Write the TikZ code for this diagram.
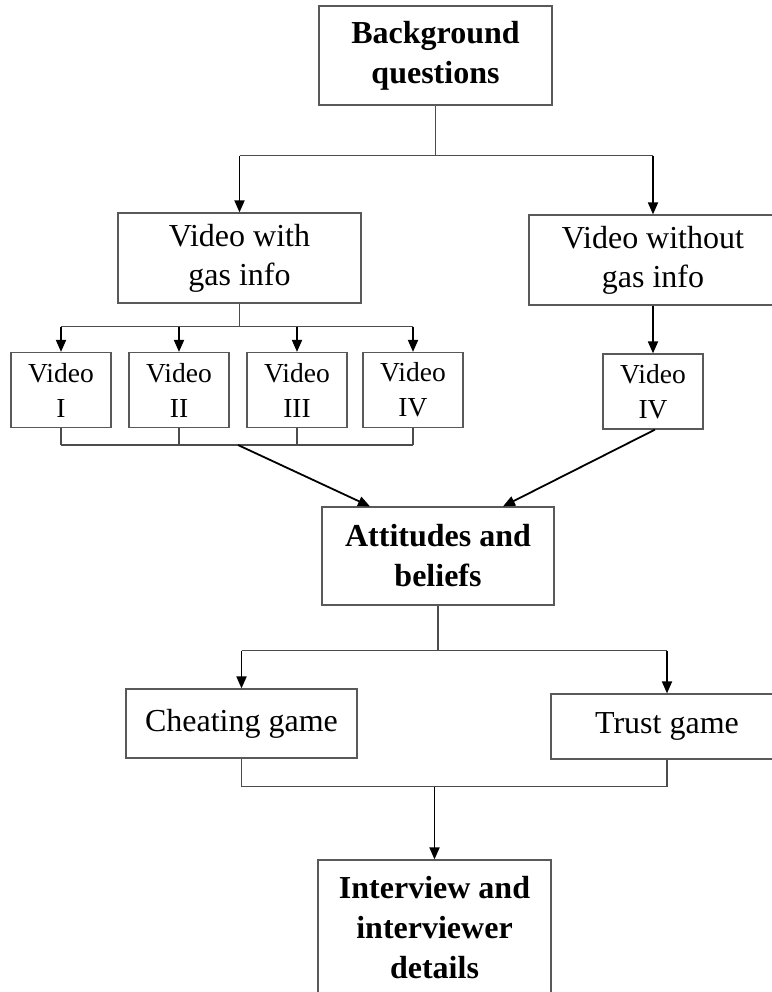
\documentclass[tikz,border=0pt]{standalone}
\usepackage{fontspec}
\setmainfont{Liberation Serif}
\usetikzlibrary{arrows.meta,positioning,calc}

\tikzset{
  stage/.style={draw=black!65, line width=1.2pt, align=center, inner sep=0pt,
    font=\fontsize{32}{39}\selectfont},
  keystage/.style={stage, font=\bfseries\fontsize{32}{40}\selectfont},
  vidbox/.style={stage, minimum width=100pt, minimum height=75pt,
    font=\fontsize{27.5}{35}\selectfont},
  link/.style={draw=black!70, line width=1.2pt},
  arr/.style={draw=black, line width=1.8pt, -{Triangle[length=12pt,width=10pt]}},
}

\begin{document}
\begin{tikzpicture}[x=1pt,y=-1pt]
\useasboundingbox (0,0) rectangle (771,992);

% Stages
\node[keystage, minimum width=233pt, minimum height=99pt] (bg) at (435.5,55.5) {Background\\questions};
\node[stage, minimum width=243pt, minimum height=90pt] (vwith) at (239.5,258) {Video with\\gas info};
\node[stage, minimum width=248pt, minimum height=90pt] (vwithout) at (653,260) {Video without\\gas info};

% Video versions
\foreach \x/\r [count=\i] in {61/I,179/II,297/III,413/IV}
  \node[vidbox] (v\i) at (\x,390) {Video\\\r};
\node[vidbox] (v5) at (653,391.5) {Video\\IV};

\node[keystage, minimum width=232pt, minimum height=98pt] (att) at (438,556) {Attitudes and\\beliefs};
\node[stage, minimum width=231pt, minimum height=69pt] (cheat) at (241.5,723.5) {Cheating game};
\node[stage, minimum width=232pt, minimum height=65pt] (trust) at (667,726.5) {Trust game};
\node[keystage, minimum width=233pt, minimum height=135pt] (intv) at (434.5,927.5) {Interview and\\interviewer\\details};

% Background -> videos
\draw[link] (bg.south) -- ++(0,50) coordinate (bgsplit);
\draw[link] (vwith.north |- bgsplit) -- (vwithout.north |- bgsplit);
\draw[arr] (vwith.north |- bgsplit) -- (vwith.north);
\draw[arr] (vwithout.north |- bgsplit) -- (vwithout.north);

% Video with gas info -> four versions
\draw[link] (vwith.south) -- ++(0,23) coordinate (vsplit);
\draw[link] (v1.north |- vsplit) -- (v4.north |- vsplit);
\foreach \i in {1,...,4}
  \draw[arr] (v\i.north |- vsplit) -- (v\i.north);
\draw[arr] (vwithout) -- (v5);

% Versions -> attitudes
\coordinate (vjoin) at (238,445);
\foreach \i in {1,...,4}
  \draw[link] (v\i.south) -- (v\i.south |- vjoin);
\draw[link] (v1.south |- vjoin) -- (v4.south |- vjoin);
\draw[arr] (vjoin) -- ([xshift=-68pt]att.north);
\draw[arr] ([xshift=2pt]v5.south) -- ([xshift=65pt]att.north);

% Attitudes -> games
\draw[link] (att.south) -- ++(0,45) coordinate (attsplit);
\draw[link] (cheat.north |- attsplit) -- (trust.north |- attsplit);
\draw[arr] (cheat.north |- attsplit) -- (cheat.north);
\draw[arr] (trust.north |- attsplit) -- (trust.north);

% Games -> interview
\draw[link] (cheat.south) -- ++(0,28) coordinate (gjoin);
\draw[link] (trust.south) -- (trust.south |- gjoin);
\draw[link] (cheat.south |- gjoin) -- (trust.south |- gjoin);
\draw[arr] (intv.north |- gjoin) -- (intv.north);

\end{tikzpicture}
\end{document}
